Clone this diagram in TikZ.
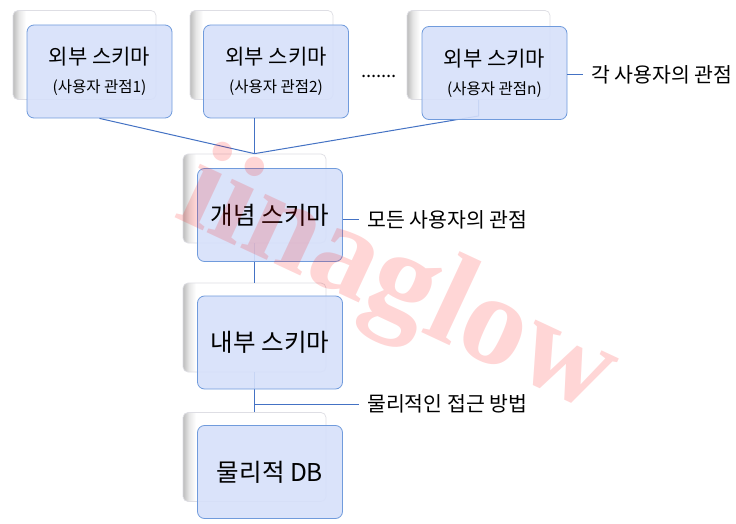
\documentclass[tikz,border=0pt]{standalone}
\usepackage{fontspec}
\setmainfont{Noto Sans CJK KR}
\newfontfamily\wmfont{Liberation Serif}
\usetikzlibrary{calc}
\definecolor{frontfill}{RGB}{214,224,250}
\definecolor{frontborder}{RGB}{112,155,220}
\definecolor{cardborder}{RGB}{222,222,228}
\definecolor{linkcol}{RGB}{68,114,196}
\pgfdeclarehorizontalshading{cardshade}{100bp}{color(0bp)=(black!26); color(25bp)=(black!26); color(27bp)=(black!10); color(29.5bp)=(white); color(100bp)=(white)}
\newcommand{\toptext}[1]{{\fontsize{21}{28}\selectfont 외부 스키마}\\(사용자 관점#1)}
\begin{document}
\begin{tikzpicture}[x=1pt,y=-1pt,
  card/.style={draw=cardborder, line width=0.7pt, rounded corners=5pt, shade, shading=cardshade,
    minimum width=143pt, minimum height=89pt, inner sep=0pt},
  frontbox/.style={draw=frontborder, fill=frontfill, fill opacity=0.9, text opacity=1,
    rounded corners=7pt, line width=0.8pt, minimum width=145pt, minimum height=93pt,
    inner sep=0pt, align=center},
  topfont/.style={font=\fontsize{15.5}{28}\selectfont},
  bigfont/.style={font=\fontsize{24.5}{28}\selectfont},
  link/.style={draw=linkcol, line width=1pt},
  sidelabel/.style={font=\fontsize{20.5}{24}\selectfont, inner xsep=8pt, inner ysep=0pt, anchor=west},
  watermark/.style={font=\wmfont\bfseries\fontsize{129}{129}\selectfont, text=red, text opacity=0.16,
    inner sep=0pt, anchor=base west, rotate=-25}
]
\fill[white] (0,0) rectangle (736,524);
\useasboundingbox (0,0) rectangle (736,524);

% back cards
\node[card] (b1) at (84.5,55) {};
\node[card] (b2) at (261.5,55) {};
\node[card] (bn) at (478.5,55) {};
\node[card] (cb) at (254.5,198.5) {};
\node[card] (ib) at (254.5,327.5) {};
\node[card] (db) at (254.5,457) {};

% connectors passing under the front boxes
\coordinate (nbend) at (478.5,116);
\draw[link] (bn.south) -- (nbend) -- (cb.north);
\draw[link] (cb.south) -- (ib.north);
\draw[link] (ib.south) -- (db.north);

% front boxes
\node[frontbox, topfont] (f1) at (99.5,71.5) {\toptext{1}};
\node[frontbox, topfont] (f2) at (276,71.5) {\toptext{2}};
\node[frontbox, topfont] (fn) at (494.5,73) {\toptext{n}};
\node[frontbox, bigfont] (cf) at (270,215) {개념 스키마};
\node[frontbox, bigfont] (if) at (270,342.5) {내부 스키마};
\node[frontbox, bigfont] (dbf) at (270,472) {물리적 DB};

% dots between external schemas
\node[font=\fontsize{18.5}{22}\selectfont, inner sep=0pt, anchor=base] (dots) at (379,78) {.......};

% connectors to the conceptual schema
\draw[link] (f1.south) -- (cb.north);
\draw[link] (f2.south -| cb.north) -- (cb.north);

% side labels
\node[sidelabel] (l1) at (583,74.5) {각 사용자의 관점};
\node[sidelabel] (l2) at (359,219.5) {모든 사용자의 관점};
\node[sidelabel] (l3) at (359,404) {물리적인 접근 방법};
\coordinate (br) at (254.5,404);
\draw[link] (fn.east |- l1.west) -- (l1.west);
\draw[link] (cf.east |- l2.west) -- (l2.west);
\draw[link] (br) -- (l3.west);

% watermark
\node[watermark] (wm) at (172,216) {iinaglow};
\end{tikzpicture}
\end{document}
